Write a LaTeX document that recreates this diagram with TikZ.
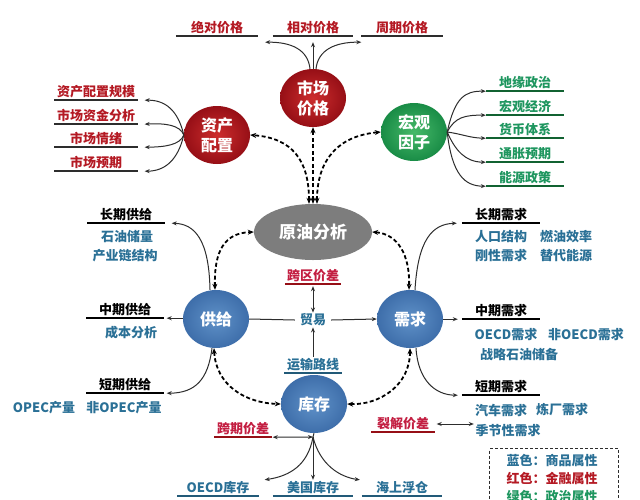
\documentclass[tikz,border=0pt]{standalone}
\usepackage{fontspec}
\setmainfont{Noto Sans CJK SC}
\usetikzlibrary{shapes.geometric,arrows.meta,calc}
\definecolor{credin}{RGB}{205,45,45}
\definecolor{credout}{RGB}{150,15,22}
\definecolor{credtxt}{RGB}{180,25,35}
\definecolor{cpink}{RGB}{195,30,65}
\definecolor{cgreenin}{RGB}{70,185,105}
\definecolor{cgreenout}{RGB}{25,140,70}
\definecolor{cgreentxt}{RGB}{30,150,95}
\definecolor{cbluein}{RGB}{95,145,200}
\definecolor{cblueout}{RGB}{62,110,170}
\definecolor{cbluetxt}{RGB}{42,112,150}
\definecolor{cgray}{RGB}{125,125,125}
\definecolor{cdark}{RGB}{45,45,45}
\begin{document}
\begin{tikzpicture}[x=1pt,y=-1pt,
  ball/.style={ellipse, minimum width=66pt, minimum height=58pt, inner sep=0pt,
    text=white, font=\fontsize{16}{20}\selectfont\bfseries, align=center},
  redball/.style={ball, shading=radial, inner color=credin, outer color=credout},
  greenball/.style={ball, shading=radial, inner color=cgreenin, outer color=cgreenout},
  blueball/.style={ball, shading=radial, inner color=cbluein, outer color=cblueout},
  lbl/.style={inner xsep=0pt, inner ysep=1pt, text height=11pt, text depth=3pt,
    font=\fontsize{13}{15}\selectfont\bfseries, minimum width=#1},
  lbl/.default=60,
  txt/.style={inner sep=1pt, font=\fontsize{13}{15}\selectfont\bfseries, text=cbluetxt},
  arr/.style={-{Stealth[length=5pt,width=4pt]}, line width=1pt, draw=cdark},
  darr/.style={{Stealth[length=5pt,width=4pt]}-{Stealth[length=5pt,width=4pt]}, line width=1pt, draw=cdark},
  dsh/.style={{Stealth[length=6pt,width=5pt]}-{Stealth[length=6pt,width=5pt]}, dash pattern=on 4pt off 2.5pt, line width=1.8pt, draw=black},
  ulk/.style={line width=1.5pt, draw=cdark},
  ulr/.style={line width=1.5pt, draw=credout},
  ulb/.style={line width=1.5pt, draw=cbluetxt!80!black},
  ulg/.style={line width=1.5pt, draw=cgreenout!70!black},
]
\fill[white] (0,0) rectangle (640,499);
\useasboundingbox (0,0) rectangle (640,499);
\clip (0,0) rectangle (640,499);

% main nodes
\node[ellipse, fill=cgray, minimum width=118pt, minimum height=56pt, inner sep=0pt,
  text=white, font=\fontsize{17}{20}\selectfont\bfseries] (crude) at (313,232) {原油分析};
\node[redball] (mkt) at (313,98) {市场\\价格};
\node[redball] (asset) at (217,135) {资产\\配置};
\node[greenball] (macro) at (414,132) {宏观\\因子};
\node[blueball] (sup) at (216,319) {供给};
\node[blueball] (dem) at (410,319) {需求};
\node[blueball] (inv) at (314,404) {库存};

% top labels
\node[lbl=82, text=credtxt] (t1) at (217,28) {绝对价格};
\node[lbl=80, text=credtxt] (t2) at (313,28) {相对价格};
\node[lbl=81, text=credtxt] (t3) at (402,28) {周期价格};
% asset labels
\node[lbl=83, text=credtxt] (a1) at (96,92) {资产配置规模};
\node[lbl=83, text=credtxt] (a2) at (96,116) {市场资金分析};
\node[lbl=83, text=credtxt] (a3) at (96,139) {市场情绪};
\node[lbl=83, text=credtxt] (a4) at (96,163) {市场预期};
% macro labels
\node[lbl=78, text=cgreentxt] (m1) at (525,83) {地缘政治};
\node[lbl=78, text=cgreentxt] (m2) at (525,107) {宏观经济};
\node[lbl=78, text=cgreentxt] (m3) at (525,130) {货币体系};
\node[lbl=78, text=cgreentxt] (m4) at (525,154) {通胀预期};
\node[lbl=78, text=cgreentxt] (m5) at (525,178) {能源政策};
% supply
\node[lbl=77, text=black] (s1) at (126,215) {长期供给};
\node[txt] (s1a) at (127,237) {石油储量};
\node[txt] (s1b) at (125,256) {产业链结构};
\node[lbl=77, text=black] (s2) at (125,310) {中期供给};
\node[txt] (s2a) at (131,333) {成本分析};
\node[lbl=77, text=black] (s3) at (125,385) {短期供给};
\node[txt] (s3a) at (44,408) {OPEC产量};
\node[txt] (s3b) at (124,408) {非OPEC产量};
% demand
\node[lbl=78, text=black] (d1) at (501,215) {长期需求};
\node[txt] (d1a) at (501,237) {人口结构};
\node[txt] (d1b) at (566,237) {燃油效率};
\node[txt] (d1c) at (501,256) {刚性需求};
\node[txt] (d1d) at (566,256) {替代能源};
\node[lbl=78, text=black] (d2) at (501,311) {中期需求};
\node[txt] (d2a) at (506,335) {OECD需求};
\node[txt] (d2b) at (586,335) {非OECD需求};
\node[txt] (d2c) at (519,355) {战略石油储备};
\node[lbl=78, text=black] (d3) at (501,387) {短期需求};
\node[txt] (d3a) at (501,410) {汽车需求};
\node[txt] (d3b) at (562,410) {炼厂需求};
\node[txt] (d3c) at (508,431) {季节性需求};
% center
\node[lbl=56, text=cpink] (c1) at (313,276) {跨区价差};
\node[txt, inner xsep=5pt] (trade) at (313,320) {贸易};
\node[lbl=57, text=cbluetxt] (r1) at (313,365) {运输路线};
\node[lbl=57, text=cpink] (k1) at (243,429) {跨期价差};
\node[lbl=63, text=cpink] (k2) at (403,424) {裂解价差};
\node[lbl=81, text=cbluetxt] (b1) at (218,488) {OECD库存};
\node[lbl=80, text=cbluetxt] (b2) at (313,488) {美国库存};
\node[lbl=80, text=cbluetxt] (b3) at (402,488) {海上浮仓};
\coordinate (hub) at (313,437);

% legend
\node[draw=cdark, dash pattern=on 3pt off 2pt, line width=1.2pt, anchor=north west,
  minimum width=129pt, minimum height=80pt] (leg) at (489,448) {};
\node[txt, text=cbluetxt] (lg1) at (552,460) {蓝色：商品属性};
\node[txt, text=credtxt] (lg2) at (552,478) {红色：金融属性};
\node[txt, text=cgreentxt] (lg3) at (552,497) {绿色：政治属性};

% underlines
\foreach \n in {t1,t2,t3,a1,a2,a3,a4} \draw[ulk] (\n.south west) -- (\n.south east);
\foreach \n in {m1,m2,m3,m4,m5} \draw[ulg] (\n.south west) -- (\n.south east);
\foreach \n in {s1,s2,s3,d1,d2,d3} \draw[line width=1.5pt, draw=black] (\n.south west) -- (\n.south east);
\foreach \n in {c1,k1,k2} \draw[ulr] (\n.south west) -- (\n.south east);
\foreach \n in {r1,b1,b2,b3} \draw[ulb] (\n.south west) -- (\n.south east);

% market price arrows
\draw[arr] ([xshift=-3pt]mkt.north) .. controls (308,50) and (292,42) .. ($(t1.south east)+(7,6)$);
\draw[arr] (mkt.north) -- ($(t2.south)+(0,6)$);
\draw[arr] ([xshift=3pt]mkt.north) .. controls (318,50) and (335,42) .. ($(t3.south west)+(0,6)$);
% asset arrows
\draw[arr] (asset.west) .. controls (178,110) and (165,100) .. ($(a1.south east)+(7,0)$);
\draw[arr] (asset.west) .. controls (180,125) and (165,123) .. ($(a2.south east)+(7,0)$);
\draw[arr] (asset.west) .. controls (180,145) and (165,147) .. ($(a3.south east)+(7,0)$);
\draw[arr] (asset.west) .. controls (178,160) and (165,171) .. ($(a4.south east)+(7,0)$);
% macro arrows
\draw[arr] (macro.east) .. controls (455,97) and (465,91) .. (m1.south west);
\draw[arr] (macro.east) .. controls (455,117) and (465,115) .. (m2.south west);
\draw[arr] (macro.east) .. controls (462,134) and (470,138) .. (m3.south west);
\draw[arr] (macro.east) .. controls (455,150) and (465,162) .. (m4.south west);
\draw[arr] (macro.east) .. controls (452,175) and (465,186) .. (m5.south west);
% dashed from crude
\draw[dsh] ([xshift=-4pt]crude.north) .. controls (309,160) and (292,138) .. (asset.east);
\draw[dsh] (crude.north) -- (mkt.south);
\draw[dsh] ([xshift=4pt]crude.north) .. controls (317,160) and (338,136) .. (macro.west);
\draw[dsh] ([xshift=-1pt]sup.north) .. controls (214,250) and (225,233) .. (crude.west);
\draw[dsh] (crude.east) .. controls (398,234) and (410,255) .. ([xshift=-1pt]dem.north);
\draw[dsh] ([xshift=-2pt]sup.south) .. controls (216,385) and (245,403) .. (inv.west);
\draw[dsh] (dem.south) .. controls (410,385) and (380,405) .. (inv.east);
% supply arrows
\draw[arr] ([xshift=-6pt]sup.north) .. controls (209,240) and (195,224) .. ($(s1.south east)+(7,0)$);
\draw[arr] (sup.west |- s2.south) -- ([xshift=3pt]s2.south east);
\draw[arr] ([xshift=-4pt]sup.south) .. controls (208,380) and (195,393) .. ([xshift=3pt]s3.south east);
% demand arrows
\draw[arr] ([xshift=5pt]dem.north) .. controls (418,240) and (432,224) .. ([xshift=-5pt]d1.south west);
\draw[arr] (dem.east |- d2.south) -- ([xshift=-4pt]d2.south west);
\draw[arr] ([xshift=6pt]dem.south) .. controls (418,380) and (435,395) .. ([xshift=-4pt]d3.south west);
% trade
\draw[line width=1pt, draw=cdark] (sup.east) -- (trade.west);
\draw[arr] (trade.east) -- (dem.west);
\draw[darr] ($(c1.south)+(0,2)$) -- (trade.north);
\draw[arr] (r1.north) -- (trade.south);
% inventory
\draw[line width=1pt, draw=cdark] (inv.south) -- (hub);
\draw[darr] ([xshift=1pt]k1.south east) -- (hub);
\draw[arr] (hub) .. controls (308,465) and (290,476) .. ([xshift=6pt]b1.north east);
\draw[arr] (hub) -- (b2.north);
\draw[arr] (hub) .. controls (320,465) and (340,477) .. ([xshift=-2pt]b3.north west);
\draw[darr] ([xshift=2pt]k2.east) -- (k2.east -| d3a.west);
\end{tikzpicture}
\end{document}
